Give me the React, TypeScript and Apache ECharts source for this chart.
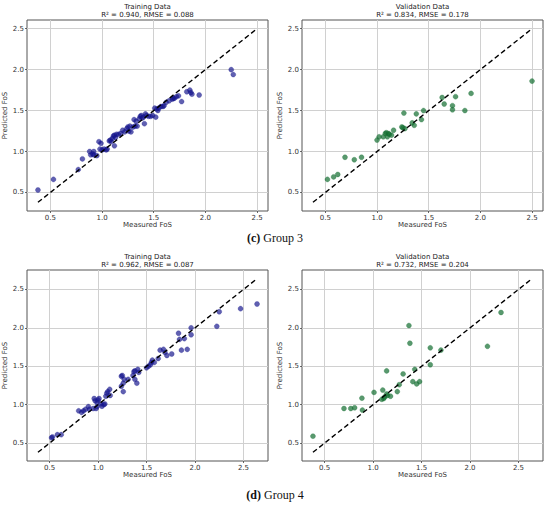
import React, { useEffect, useRef } from "react";
import * as echarts from "echarts";

// Group 3 — Training (measured, predicted)
const train3: number[][] = [
  [0.38, 0.53], [0.53, 0.66], [0.77, 0.78], [0.81, 0.91], [0.88, 1.0], [0.89, 0.96], [0.91, 0.97], [0.92, 1.0],
  [0.92, 0.96], [0.95, 0.95], [0.97, 1.12], [0.98, 1.03], [0.99, 1.1], [1.0, 1.02], [1.02, 1.03], [1.04, 1.02],
  [1.05, 1.03], [1.07, 1.13], [1.08, 1.14], [1.09, 1.12], [1.1, 1.16], [1.11, 1.19], [1.12, 1.07], [1.12, 1.2],
  [1.13, 1.17], [1.14, 1.21], [1.16, 1.21], [1.18, 1.22], [1.2, 1.26], [1.22, 1.24], [1.24, 1.28], [1.25, 1.3],
  [1.26, 1.25], [1.27, 1.31], [1.28, 1.24], [1.3, 1.3], [1.31, 1.39], [1.32, 1.31], [1.33, 1.37], [1.34, 1.31],
  [1.36, 1.4], [1.37, 1.43], [1.38, 1.44], [1.39, 1.41], [1.4, 1.42], [1.41, 1.34], [1.42, 1.46], [1.43, 1.44],
  [1.45, 1.43], [1.47, 1.43], [1.49, 1.44], [1.51, 1.53], [1.52, 1.42], [1.53, 1.52], [1.54, 1.5], [1.55, 1.53],
  [1.57, 1.55], [1.59, 1.55], [1.6, 1.56], [1.62, 1.6], [1.65, 1.62], [1.68, 1.64], [1.69, 1.65], [1.7, 1.65],
  [1.72, 1.67], [1.74, 1.68], [1.77, 1.61], [1.82, 1.73], [1.85, 1.75], [1.86, 1.72], [1.87, 1.7], [1.94, 1.69],
  [2.25, 2.0], [2.27, 1.94],
];

// Group 3 — Validation
const val3: number[][] = [
  [0.52, 0.66], [0.58, 0.69], [0.62, 0.72], [0.69, 0.93], [0.78, 0.9], [0.85, 0.93], [1.0, 1.14], [1.02, 1.18],
  [1.06, 1.18], [1.08, 1.22], [1.09, 1.23], [1.1, 1.18], [1.11, 1.22], [1.12, 1.21], [1.14, 1.2], [1.16, 1.26],
  [1.24, 1.3], [1.25, 1.29], [1.26, 1.47], [1.27, 1.28], [1.34, 1.35], [1.36, 1.32], [1.38, 1.46], [1.43, 1.39],
  [1.45, 1.5], [1.63, 1.66], [1.65, 1.58], [1.73, 1.56], [1.73, 1.51], [1.76, 1.67], [1.85, 1.5], [1.91, 1.71],
  [2.5, 1.86],
];

// Group 4 — Training
const train4: number[][] = [
  [0.52, 0.57], [0.53, 0.58], [0.58, 0.61], [0.62, 0.61], [0.8, 0.92], [0.83, 0.9], [0.85, 0.92], [0.87, 0.94],
  [0.9, 0.975], [0.91, 0.94], [0.95, 0.95], [0.96, 1.08], [0.97, 1.05], [0.98, 0.95], [0.99, 1.03], [0.99, 0.975],
  [1.0, 1.06], [1.01, 1.08], [1.03, 1.01], [1.04, 0.98], [1.06, 1.0], [1.07, 1.01], [1.08, 1.11], [1.09, 1.15],
  [1.1, 1.17], [1.12, 1.2], [1.125, 1.12], [1.24, 1.24], [1.24, 1.37], [1.25, 1.38], [1.26, 1.17], [1.26, 1.28],
  [1.27, 1.33], [1.31, 1.33], [1.36, 1.38], [1.37, 1.43], [1.38, 1.44], [1.38, 1.33], [1.4, 1.28], [1.41, 1.46],
  [1.42, 1.42], [1.5, 1.48], [1.52, 1.5], [1.54, 1.52], [1.55, 1.55], [1.56, 1.58], [1.58, 1.55], [1.62, 1.6],
  [1.64, 1.71], [1.675, 1.72], [1.69, 1.68], [1.71, 1.64], [1.76, 1.66], [1.83, 1.93], [1.84, 1.85], [1.86, 1.71],
  [1.89, 1.86], [1.92, 1.72], [1.96, 2.0], [1.96, 1.91], [2.225, 2.02], [2.25, 2.21], [2.47, 2.25], [2.64, 2.31],
];

// Group 4 — Validation
const val4: number[][] = [
  [0.38, 0.59], [0.7, 0.95], [0.77, 0.95], [0.81, 0.96], [0.885, 1.085], [0.89, 0.93], [1.01, 1.16], [1.09, 1.07],
  [1.1, 1.19], [1.11, 1.08], [1.12, 1.1], [1.14, 1.14], [1.14, 1.44], [1.15, 1.12], [1.18, 1.11], [1.25, 1.17],
  [1.27, 1.26], [1.31, 1.4], [1.37, 2.03], [1.38, 1.8], [1.41, 1.3], [1.43, 1.46], [1.45, 1.27], [1.48, 1.3],
  [1.59, 1.74], [1.59, 1.52], [1.7, 1.71], [2.18, 1.76], [2.32, 2.2],
];

const tickValues = [0.5, 1.0, 1.5, 2.0, 2.5];
const panelTitles = ["Training Data", "Validation Data", "Training Data", "Validation Data"];
const panelMetrics = [
  "R² = 0.940, RMSE = 0.088",
  "R² = 0.834, RMSE = 0.178",
  "R² = 0.962, RMSE = 0.087",
  "R² = 0.732, RMSE = 0.204",
];
const captionLetters = ["(c)", "(d)"];
const captionNames = ["Group 3", "Group 4"];

const FONT = "DejaVu Sans";
const BLUE = "rgba(20,20,140,0.85)";
const GREEN = "rgba(20,110,50,0.88)";

function extent(sets: number[][][]) {
  let lo = Infinity;
  let hi = -Infinity;
  sets.forEach((s) =>
    s.forEach(([x, y]) => {
      lo = Math.min(lo, x, y);
      hi = Math.max(hi, x, y);
    })
  );
  const pad = (hi - lo) * 0.05;
  return { lo, hi, min: lo - pad, max: hi + pad };
}

export default function App() {
  const ref = useRef<HTMLDivElement>(null);

  useEffect(() => {
    if (!ref.current) return;
    const chart = echarts.init(ref.current, undefined, { renderer: "svg" });

    const ext3 = extent([train3, val3]);
    const ext4 = extent([train4, val4]);
    const panels = [
      { data: train3, ext: ext3, color: BLUE, left: 27, top: 20 },
      { data: val3, ext: ext3, color: GREEN, left: 302, top: 20 },
      { data: train4, ext: ext4, color: BLUE, left: 27, top: 270 },
      { data: val4, ext: ext4, color: GREEN, left: 302, top: 270 },
    ];
    const W = 241;
    const H = 191;

    const axisCommon = (i: number, ext: any) => ({
      gridIndex: i,
      type: "value",
      min: ext.min,
      max: ext.max,
      axisLine: { show: false },
      axisTick: {
        show: true,
        length: 2,
        lineStyle: { color: "#444", width: 0.8 },
        customValues: tickValues,
      },
      axisLabel: {
        customValues: tickValues,
        formatter: (v: number) => v.toFixed(1),
        fontSize: 7,
        color: "#333",
        margin: 3,
        fontFamily: FONT,
      },
      splitLine: { show: true, lineStyle: { color: "#d0d0d0", width: 1 } },
      nameTextStyle: { fontSize: 7, color: "#333", fontFamily: FONT },
    });

    const textStyle = (text: string) => ({
      text,
      font: `7px "${FONT}"`,
      fill: "#222",
      textAlign: "center",
      textVerticalAlign: "middle",
      align: "center",
      verticalAlign: "middle",
    });

    const graphics: any[] = [];
    panels.forEach((p, i) => {
      const cx = p.left + W / 2;
      graphics.push({ type: "text", x: cx, y: p.top - 13, style: textStyle(panelTitles[i]) });
      graphics.push({ type: "text", x: cx, y: p.top - 5.5, style: textStyle(panelMetrics[i]) });
    });
    [238, 495].forEach((y, k) => {
      graphics.push({
        type: "text",
        x: 275,
        y,
        style: {
          text: `{b|${captionLetters[k]}} ${captionNames[k]}`,
          font: `12px "Liberation Serif"`,
          fill: "#111",
          textAlign: "center",
          textVerticalAlign: "middle",
          align: "center",
          verticalAlign: "middle",
          rich: {
            b: { fontWeight: "bold", fontSize: 12, fontFamily: "Liberation Serif", fill: "#111", color: "#111" },
          },
        },
      });
    });

    const option: any = {
      animation: false,
      backgroundColor: "#fff",
      grid: panels.map((p) => ({
        left: p.left,
        top: p.top,
        width: W,
        height: H,
        show: true,
        borderColor: "#555",
        borderWidth: 1,
        backgroundColor: "transparent",
        containLabel: false,
      })),
      xAxis: panels.map((p, i) => ({
        ...axisCommon(i, p.ext),
        name: "Measured FoS",
        nameLocation: "middle",
        nameGap: 10,
      })),
      yAxis: panels.map((p, i) => ({
        ...axisCommon(i, p.ext),
        name: "Predicted FoS",
        nameLocation: "middle",
        nameGap: 14,
      })),
      series: [
        ...panels.map((p, i) => ({
          type: "scatter",
          xAxisIndex: i,
          yAxisIndex: i,
          data: p.data,
          symbolSize: 5,
          z: 2,
          itemStyle: { color: p.color, borderColor: p.color, borderWidth: 0.4 },
        })),
        ...panels.map((p, i) => ({
          type: "line",
          xAxisIndex: i,
          yAxisIndex: i,
          data: [
            [p.ext.lo, p.ext.lo],
            [p.ext.hi, p.ext.hi],
          ],
          showSymbol: false,
          symbol: "none",
          z: 3,
          lineStyle: { color: "#000", width: 1.4, type: [5, 3] },
        })),
      ],
      graphic: graphics,
    };

    chart.setOption(option);
    return () => chart.dispose();
  }, []);

  return (
    <div
      ref={ref}
      style={{ position: "absolute", left: 0, top: 0, width: 550, height: 505, background: "#fff" }}
    />
  );
}
